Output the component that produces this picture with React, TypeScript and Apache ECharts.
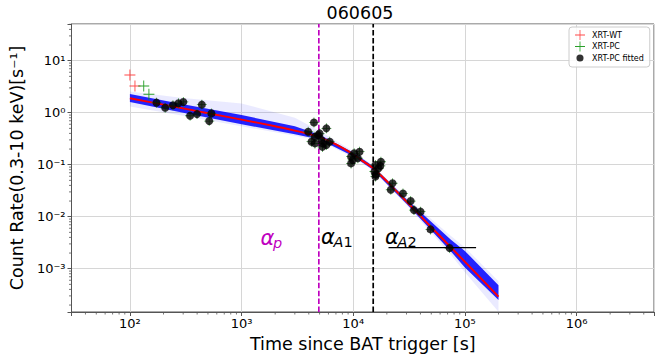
import React, { useEffect, useRef } from 'react';
import * as echarts from 'echarts';

const FONT = 'DejaVu Sans';
const titleText = '060605';
const xName = 'Time since BAT trigger [s]';
const yName = 'Count Rate(0.3-10 keV)[s⁻¹]';

const X_MIN = 30;
const X_MAX = 4.94e6;
const Y_MIN = 1.47e-4;
const Y_MAX = 50.8;

// XRT-WT points
const wtT = [100, 111];
const wtR = [5.3, 3.26];
// XRT-PC points (not fitted)
const pcT = [133, 148];
const pcR = [3.26, 2.26];
// XRT-PC fitted points
const fitT = [173, 207, 243, 272, 301, 441, 346, 399, 537, 513,
  3950, 4230, 4450, 4540, 4540, 4850, 5000, 5190, 5300, 5350, 5750, 5750, 6160,
  9560, 9560, 9900, 10200, 11000, 11400,
  15500, 15800, 15800, 16000, 16900, 17500, 17700,
  21700, 22500, 27900, 32700, 35000, 40100, 49200, 72900];
const fitR = [1.56, 1.25, 1.39, 1.52, 1.61, 1.43, 0.875, 0.94, 0.97, 0.69,
  0.43, 0.277, 0.65, 0.257, 0.345, 0.37, 0.4, 0.30, 0.22, 0.257, 0.5, 0.24, 0.277,
  0.143, 0.106, 0.123, 0.166, 0.133, 0.178,
  0.074, 0.099, 0.059, 0.065, 0.085, 0.095, 0.114,
  0.033, 0.044, 0.028, 0.020, 0.0134, 0.0125, 0.0057, 0.0025];

// best-fit model curve
const modelT = [100, 200, 500, 1000, 2000, 3000, 4000, 5000, 7000, 10000, 12000, 15000, 17000, 20000, 30000, 50000, 75000, 120000, 200000];
const modelR = [1.89, 1.43, 0.98, 0.736, 0.55, 0.452, 0.39, 0.339, 0.245, 0.158, 0.12, 0.087, 0.068, 0.048, 0.0196, 0.0063, 0.00257, 0.00091, 0.00029];

// posterior band envelopes
const bandT = [100, 300, 1000, 3000, 5000, 10000, 15000, 30000, 75000, 100000, 200000];
const innerUp = [2.3, 1.45, 0.9, 0.55, 0.375, 0.172, 0.094, 0.0217, 0.0036, 0.0022, 0.00048];
const innerLo = [1.6, 1.0, 0.6, 0.385, 0.305, 0.146, 0.08, 0.0177, 0.00215, 0.00106, 0.00025];
const outerUp = [2.55, 1.91, 1.5, 0.804, 0.447, 0.182, 0.0977, 0.0231, 0.00427, 0.00257, 0.000575];
const outerLo = [1.31, 0.873, 0.546, 0.359, 0.288, 0.138, 0.0776, 0.0167, 0.00186, 0.00085, 0.000148];

// break times
const breakT1 = 4920;
const breakT2 = 15100;

// reference segment under alpha_A2
const segT = [20700, 126000];
const segR = 0.00254;

// alpha labels (anchor at left/middle of alpha glyph)
const alphaT = [1480, 5150, 19300];
const alphaR = [0.00395, 0.00415, 0.00415];
const alphaSub = ['p', 'A1', 'A2'];
const alphaColor = ['#bf00bf', '#000000', '#000000'];

const CROSS = 'path://M0,11H24V13H0Z M11,0H13V24H11Z';
const DOT = 'path://M0,0h0.01v0.01h-0.01Z M23.99,23.99h0.01v0.01h-0.01Z M3.5,12 A8.5,8.5 0 1,0 20.5,12 A8.5,8.5 0 1,0 3.5,12 Z';

const SUP: Record<string, string> = { '-': '⁻', '0': '⁰', '1': '¹', '2': '²', '3': '³', '4': '⁴', '5': '⁵', '6': '⁶', '7': '⁷', '8': '⁸', '9': '⁹' };
function powLabel(v: number): string {
  const e = Math.log10(v);
  const r = Math.round(e);
  if (Math.abs(e - r) > 1e-6) return '';
  return '10' + String(r).split('').map((c) => SUP[c] || c).join('');
}

function minorValues(lo: number, hi: number): number[] {
  const out: number[] = [];
  for (let e = Math.floor(Math.log10(lo)); e <= Math.ceil(Math.log10(hi)); e++) {
    for (let m = 2; m <= 9; m++) {
      const v = m * Math.pow(10, e);
      if (v > lo && v < hi) out.push(v);
    }
  }
  return out;
}

export default function App() {
  const ref = useRef<HTMLDivElement>(null);
  useEffect(() => {
    if (!ref.current) return;
    const chart = echarts.init(ref.current, undefined, { renderer: 'svg' });
    const axisColor = '#555';
    const gridColor = '#d6d6d6';
    const minorX = minorValues(X_MIN, X_MAX);
    const minorY = minorValues(Y_MIN, Y_MAX);

    const option: any = {
      animation: false,
      backgroundColor: '#ffffff',
      title: {
        text: titleText, left: 326.6, top: 4, padding: 0,
        textStyle: { fontFamily: FONT, fontSize: 17.5, fontWeight: 'normal', color: '#000' },
      },
      grid: { left: 66, right: 10, top: 24, bottom: 46, show: true, borderColor: axisColor, borderWidth: 1, backgroundColor: 'transparent' },
      legend: {
        orient: 'vertical', left: 569, top: 27, padding: [3, 6, 4, 6],
        backgroundColor: 'rgba(255,255,255,0.85)', borderColor: '#cccccc', borderWidth: 1, borderRadius: 3,
        itemWidth: 14, itemHeight: 10, itemGap: 1.5, selectedMode: false,
        textStyle: { fontFamily: FONT, fontSize: 8, color: '#000' },
        data: [
          { name: 'XRT-WT', icon: CROSS, itemStyle: { color: '#ff2a2a' } },
          { name: 'XRT-PC', icon: CROSS, itemStyle: { color: '#129612' } },
          { name: 'XRT-PC fitted', icon: DOT, itemStyle: { color: '#000' } },
        ],
      },
      xAxis: {
        type: 'log', min: X_MIN, max: X_MAX,
        name: xName, nameLocation: 'middle', nameGap: 20,
        nameTextStyle: { fontFamily: FONT, fontSize: 17.5, color: '#000' },
        axisLine: { show: true, lineStyle: { color: axisColor, width: 1 } },
        axisTick: { show: true, length: 4, lineStyle: { color: axisColor } },
        axisLabel: { formatter: powLabel, margin: 5, fontFamily: FONT, fontSize: 13, color: '#000' },
        splitLine: { show: true, lineStyle: { color: gridColor, width: 1 } },
      },
      yAxis: {
        type: 'log', min: Y_MIN, max: Y_MAX,
        name: yName, nameLocation: 'middle', nameGap: 41,
        nameTextStyle: { fontFamily: FONT, fontSize: 17.5, color: '#000' },
        axisLine: { show: true, lineStyle: { color: axisColor, width: 1 } },
        axisTick: { show: true, length: 4, lineStyle: { color: axisColor } },
        axisLabel: { formatter: powLabel, margin: 6, fontFamily: FONT, fontSize: 13, color: '#000' },
        splitLine: { show: true, lineStyle: { color: gridColor, width: 1 } },
      },
      series: [
        {
          name: 'minorTicks', type: 'custom', z: 1, silent: true,
          data: [[X_MIN, Y_MIN]],
          renderItem: (params: any, api: any) => {
            const children: any[] = [];
            const y0 = api.coord([X_MIN, Y_MIN])[1];
            const x0 = api.coord([X_MIN, Y_MIN])[0];
            minorX.forEach((v) => {
              const x = api.coord([v, Y_MIN])[0];
              children.push({ type: 'line', shape: { x1: x, y1: y0, x2: x, y2: y0 + 2.5 }, style: { stroke: axisColor, lineWidth: 0.8 } });
            });
            minorY.forEach((v) => {
              const y = api.coord([X_MIN, v])[1];
              children.push({ type: 'line', shape: { x1: x0, y1: y, x2: x0 - 2.5, y2: y }, style: { stroke: axisColor, lineWidth: 0.8 } });
            });
            return { type: 'group', children };
          },
        },
        {
          name: 'break1', type: 'line', z: 2, silent: true, symbol: 'none',
          data: [[breakT1, Y_MIN], [breakT1, Y_MAX]],
          lineStyle: { color: '#bf00bf', width: 1.7, type: [5.5, 2.4] },
        },
        {
          name: 'break2', type: 'line', z: 2, silent: true, symbol: 'none',
          data: [[breakT2, Y_MIN], [breakT2, Y_MAX]],
          lineStyle: { color: '#000000', width: 1.7, type: [5.5, 2.4] },
        },
        {
          name: 'band', type: 'custom', z: 3, silent: true,
          data: [[bandT[0], innerUp[0]]],
          renderItem: (params: any, api: any) => {
            const poly = (up: number[], lo: number[]) => [
              ...bandT.map((t, i) => api.coord([t, up[i]])),
              ...bandT.map((t, i) => api.coord([t, lo[i]])).reverse(),
            ];
            return {
              type: 'group',
              children: [
                { type: 'polygon', shape: { points: poly(outerUp, outerLo) }, style: { fill: 'rgba(60,60,255,0.11)' } },
                { type: 'polygon', shape: { points: poly(innerUp, innerLo) }, style: { fill: 'rgba(0,0,255,0.85)' } },
              ],
            };
          },
        },
        {
          name: 'model', type: 'line', z: 4, silent: true, symbol: 'none', smooth: 0.2,
          data: modelT.map((t, i) => [t, modelR[i]]),
          lineStyle: { color: '#ff0000', width: 2 },
        },
        {
          name: 'pcErr', type: 'scatter', z: 5, silent: true,
          data: fitT.map((t, i) => [t, fitR[i]]),
          symbol: CROSS, symbolSize: 10, itemStyle: { color: '#1c8c1c' },
        },
        {
          name: 'XRT-PC fitted', type: 'scatter', z: 6,
          data: fitT.map((t, i) => [t, fitR[i]]),
          symbol: 'circle', symbolSize: 8, itemStyle: { color: '#000000' },
        },
        {
          name: 'XRT-WT', type: 'scatter', z: 7,
          data: wtT.map((t, i) => [t, wtR[i]]),
          symbol: CROSS, symbolSize: 11, itemStyle: { color: '#ff2a2a', opacity: 0.85 },
        },
        {
          name: 'XRT-PC', type: 'scatter', z: 7,
          data: pcT.map((t, i) => [t, pcR[i]]),
          symbol: CROSS, symbolSize: 11, itemStyle: { color: '#129612', opacity: 0.9 },
        },
        {
          name: 'segment', type: 'line', z: 8, silent: true, symbol: 'none',
          data: segT.map((t) => [t, segR]),
          lineStyle: { color: '#000000', width: 1.3 },
        },
      ],
    };
    chart.setOption(option);

    const elements: any[] = [];
    alphaT.forEach((t, i) => {
      const p = chart.convertToPixel({ xAxisIndex: 0, yAxisIndex: 0 }, [t, alphaR[i]]) as number[];
      elements.push({
        type: 'text', x: p[0], y: p[1], z: 100,
        style: { text: 'α', fontFamily: FONT, fontSize: 21, fontStyle: 'italic', fill: alphaColor[i], align: 'left', verticalAlign: 'middle' },
      });
      const sub = alphaSub[i];
      const letters = sub.replace(/[0-9]/g, '');
      const digits = sub.replace(/[^0-9]/g, '');
      elements.push({
        type: 'text', x: p[0] + 12.5, y: p[1] + 5.3, z: 100,
        style: {
          text: '{i|' + letters + '}' + (digits ? '{n|' + digits + '}' : ''),
          fontFamily: FONT, fontSize: 14.5, fill: alphaColor[i], align: 'left', verticalAlign: 'middle',
          rich: {
            i: { fontFamily: FONT, fontSize: 14.5, fontStyle: 'italic', fill: alphaColor[i] },
            n: { fontFamily: FONT, fontSize: 14.5, fill: alphaColor[i] },
          },
        },
      });
    });
    chart.setOption({ graphic: { elements } });

    return () => chart.dispose();
  }, []);
  return <div ref={ref} style={{ position: 'fixed', left: 0, top: 0, width: 664, height: 358 }} />;
}
